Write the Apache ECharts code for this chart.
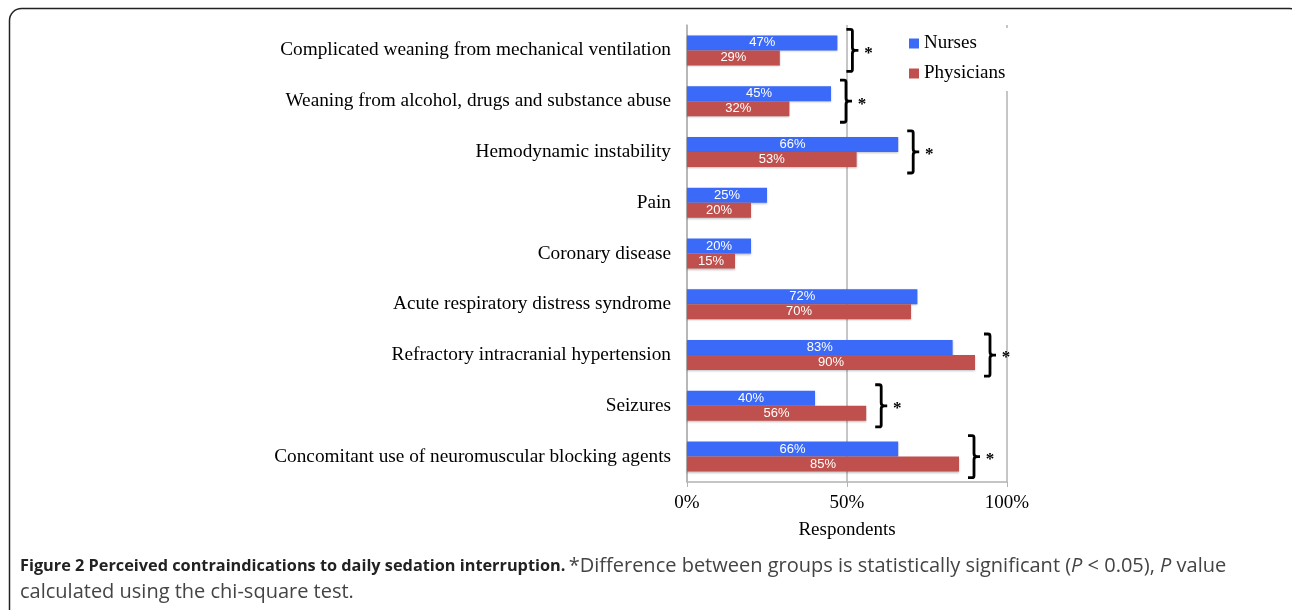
<!DOCTYPE html>
<html>
<head>
<meta charset="utf-8">
<script src="https://cdn.jsdelivr.net/npm/echarts@6/dist/echarts.min.js"></script>
<style>
    html, body {margin: 0; padding: 0; background: #fff;}
    #chart {width: 1292px; height: 610px;}
</style>
</head>
<body>
<div id="chart"></div>
<script>
var categories = [
    "Complicated weaning from mechanical ventilation",
    "Weaning from alcohol, drugs and substance abuse",
    "Hemodynamic instability",
    "Pain",
    "Coronary disease",
    "Acute respiratory distress syndrome",
    "Refractory intracranial hypertension",
    "Seizures",
    "Concomitant use of neuromuscular blocking agents"
];
var nurses = [47, 45, 66, 25, 20, 72, 83, 40, 66];
var physicians = [29, 32, 53, 20, 15, 70, 90, 56, 85];
// categories where the difference is significant (*)
var significant = [0, 1, 2, 6, 7, 8];
var xTicks = [0, 50, 100];

var bracketData = [];
for (var i = 0; i < significant.length; i++) {
    var k = significant[i];
    bracketData.push([Math.max(nurses[k], physicians[k]), k]);
}

var serif = "'Liberation Serif', 'DejaVu Serif', serif";
var sans = "'Open Sans', sans-serif";
var gray = "#b3b3b3";

var myChart = echarts.init(document.getElementById("chart"));

var renderBracket = function (params, api) {
    var p = api.coord([api.value(0), api.value(1)]);
    var band = api.size([0, 1])[1];
    var h = band * 0.415;
    var x0 = p[0] + 9;
    var xv = x0 + 6;
    var y = p[1];
    var path = [
        "M", x0, y - h,
        "L", xv - 2, y - h,
        "Q", xv, y - h, xv, y - h + 2,
        "L", xv, y - 3,
        "Q", xv, y, xv + 3, y,
        "L", xv + 6, y,
        "M", xv + 3, y,
        "Q", xv, y, xv, y + 3,
        "L", xv, y + h - 2,
        "Q", xv, y + h, xv - 2, y + h,
        "L", x0, y + h
    ].join(" ");
    return {
        type: "group",
        children: [
            {
                type: "path",
                shape: {pathData: path},
                style: {fill: null, stroke: "#000", lineWidth: 2.8}
            },
            {
                type: "text",
                x: x0 + 22,
                y: y + 3,
                style: {text: "*", font: "bold 17px " + serif, fill: "#000", textAlign: "center", verticalAlign: "middle"}
            }
        ]
    };
};

var option = {
    animation: false,
    backgroundColor: "#fff",
    grid: {left: 687, right: 285, top: 25, bottom: 128},
    legend: {
        orient: "vertical",
        left: 903,
        top: 28,
        padding: [6, 8, 8, 6],
        backgroundColor: "#fff",
        itemWidth: 10,
        itemHeight: 10,
        itemGap: 11,
        icon: "rect",
        z: 10,
        textStyle: {fontFamily: serif, fontSize: 19, color: "#000"},
        data: ["Nurses", "Physicians"]
    },
    xAxis: {
        type: "value",
        min: xTicks[0],
        max: xTicks[xTicks.length - 1],
        interval: 50,
        name: "Respondents",
        nameLocation: "middle",
        nameGap: 39,
        nameTextStyle: {fontFamily: serif, fontSize: 19, color: "#000"},
        axisLine: {show: true, lineStyle: {color: gray, width: 1.5}},
        axisTick: {show: true, length: 5, lineStyle: {color: gray}},
        splitLine: {lineStyle: {color: gray, width: 1.5}},
        axisLabel: {formatter: "{value}%", fontFamily: serif, fontSize: 19, color: "#000", margin: 12}
    },
    yAxis: {
        type: "category",
        inverse: true,
        data: categories,
        axisLine: {lineStyle: {color: gray, width: 1.5}},
        axisTick: {length: 5, lineStyle: {color: gray}},
        axisLabel: {fontFamily: serif, fontSize: 19.3, color: "#000", margin: 16}
    },
    series: [
        {
            name: "Nurses",
            type: "bar",
            data: nurses,
            barWidth: 15,
            barGap: "0%",
            itemStyle: {color: "#3a6af7", shadowColor: "rgba(0,0,0,0.25)", shadowBlur: 2, shadowOffsetY: 1},
            label: {show: true, position: "inside", formatter: "{c}%", color: "#fff",
                fontFamily: "'Liberation Sans', Arial, sans-serif", fontSize: 13}
        },
        {
            name: "Physicians",
            type: "bar",
            data: physicians,
            barWidth: 15,
            barGap: "0%",
            itemStyle: {color: "#c0504d", shadowColor: "rgba(0,0,0,0.25)", shadowBlur: 2, shadowOffsetY: 1},
            label: {show: true, position: "inside", formatter: "{c}%", color: "#fff",
                fontFamily: "'Liberation Sans', Arial, sans-serif", fontSize: 13}
        },
        {
            type: "custom",
            renderItem: renderBracket,
            data: bracketData,
            encode: {x: 0, y: 1},
            silent: true,
            z: 5
        }
    ],
    graphic: [
        {
            type: "rect",
            shape: {x: 9.5, y: 8.5, width: 1292, height: 620, r: 12},
            style: {fill: null, stroke: "#222", lineWidth: 1.5},
            silent: true
        },
        {
            type: "text",
            left: 20,
            top: 556,
            style: {
                text: "{b|Figure 2 Perceived contraindications to daily sedation interruption.} {n|*Difference between groups is statistically significant (}{i|P}{n| < 0.05), }{i|P}{n| value}\n{n|calculated using the chi-square test.}",
                rich: {
                    b: {fontFamily: sans, fontWeight: "bold", fontSize: 16.3, fill: "#222", lineHeight: 26},
                    n: {fontFamily: sans, fontSize: 20, fill: "#444", lineHeight: 26},
                    i: {fontFamily: sans, fontStyle: "italic", fontSize: 20, fill: "#444", lineHeight: 26}
                }
            }
        }
    ]
};
myChart.setOption(option);
</script>
</body>
</html>
